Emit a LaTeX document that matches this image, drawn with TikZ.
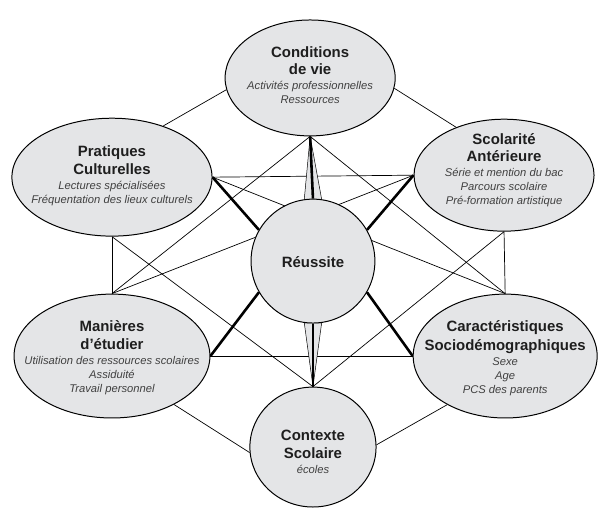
\documentclass[tikz,border=0pt]{standalone}
\usepackage{fontspec}
\setmainfont{Liberation Sans}
\usepackage{xcolor}
\usetikzlibrary{shapes.geometric, calc, backgrounds}
\definecolor{bubblefill}{RGB}{228,229,231}
\definecolor{titletext}{RGB}{30,30,30}
\definecolor{detailtext}{RGB}{64,64,64}
\newcommand{\titre}[1]{{\fontsize{15}{18}\selectfont\bfseries\upshape\color{titletext}#1}}
\tikzset{
	bubble/.style={ellipse, draw, line width=1pt, fill=bubblefill, inner sep=0pt},
	bubbletext/.style={align=center, font=\fontsize{11.25}{14}\selectfont\itshape, text=detailtext},
	link/.style={draw, line width=0.7pt},
	strong/.style={draw, line width=2.6pt},
	sliver/.style={draw, line width=0.5pt, fill=bubblefill}
}

\begin{document}
\begin{tikzpicture}
	\useasboundingbox (0,0) rectangle (21.13,17.96);
	
	% Outer ellipses
	\node[bubble, minimum width=6.00cm, minimum height=4.09cm] (conditions) at (10.94,15.21) {};
	\node[bubble, minimum width=7.06cm, minimum height=4.16cm] (pratiques) at (3.95,11.71) {};
	\node[bubble, minimum width=6.35cm, minimum height=3.95cm] (scolarite) at (17.78,11.78) {};
	\node[bubble, minimum width=6.91cm, minimum height=4.37cm] (manieres) at (3.95,5.40) {};
	\node[bubble, minimum width=6.49cm, minimum height=4.37cm] (caracteristiques) at (17.82,5.40) {};
	\node[bubble, minimum width=4.45cm, minimum height=4.23cm] (contexte) at (11.04,2.19) {};
	
	% Central circle
	\node[bubble, circle, minimum size=4.37cm] (reussite) at (11.04,8.75) {};
	
	% Texts inside the ellipses
	\node[bubbletext] (conditions_text) at ($(conditions)+(0,0.1)$) {\titre{Conditions}\\[4pt]\titre{de vie}\\[1pt]Activités professionnelles\\Ressources};
	\node[bubbletext] (pratiques_text) at ($(pratiques)+(0,0.05)$) {\titre{Pratiques}\\[4pt]\titre{Culturelles}\\[1pt]Lectures spécialisées\\Fréquentation des lieux culturels};
	\node[bubbletext] (scolarite_text) at ($(scolarite)+(0,0.18)$) {\titre{Scolarité}\\[4pt]\titre{Antérieure}\\[1pt]Série et mention du bac\\Parcours scolaire\\Pré-formation artistique};
	\node[bubbletext] (manieres_text) at ($(manieres)+(0,-0.07)$) {\titre{Manières}\\[4pt]\titre{d’étudier}\\[1pt]Utilisation des ressources scolaires\\Assiduité\\Travail personnel};
	\node[bubbletext] (caracteristiques_text) at ($(caracteristiques)+(0,-0.07)$) {\titre{Caractéristiques}\\[4pt]\titre{Sociodémographiques}\\[1pt]Sexe\\Age\\PCS des parents};
	\node[bubbletext] (contexte_text) at ($(contexte)+(0,-0.18)$) {\titre{Contexte}\\[4pt]\titre{Scolaire}\\[1pt]écoles};
	\node[bubbletext] (reussite_text) at ($(reussite)+(0,-0.03)$) {\titre{Réussite}};
	
	\begin{scope}[on background layer]
		% links between the outer ellipses
		\draw[link] (conditions.188) -- (pratiques.45);
		\draw[link] (conditions.353) -- (scolarite.135);
		\draw[link] (conditions.south) -- (manieres.north);
		\draw[link] (conditions.south) -- (caracteristiques.north);
		\draw[link] (pratiques.east) -- (scolarite.west);
		\draw[link] (pratiques.east) -- (caracteristiques.north);
		\draw[link] (pratiques.south) -- (manieres.north);
		\draw[link] (pratiques.south) -- (contexte.north);
		\draw[link] (scolarite.west) -- (manieres.north);
		\draw[link] (scolarite.south) -- (caracteristiques.north);
		\draw[link] (scolarite.south) -- (contexte.north);
		\draw[link] (manieres.east) -- (caracteristiques.west);
		\draw[link] (manieres.322) -- (contexte.185);
		\draw[link] (caracteristiques.220) -- (contexte.2);
		
		% links to the centre
		\draw[sliver] (conditions.south) -- (reussite.98) -- (reussite.82) -- cycle;
		\draw[sliver] (contexte.north) -- (reussite.262) -- (reussite.278) -- cycle;
		\draw[strong] (conditions.south) -- (reussite.north);
		\draw[strong] (contexte.north) -- (reussite.south);
		\draw[strong] (pratiques.east) -- (reussite.150);
		\draw[strong] (scolarite.west) -- (reussite.30);
		\draw[strong] (manieres.east) -- (reussite.210);
		\draw[strong] (caracteristiques.west) -- (reussite.330);
	\end{scope}
	
\end{tikzpicture}
\end{document}
